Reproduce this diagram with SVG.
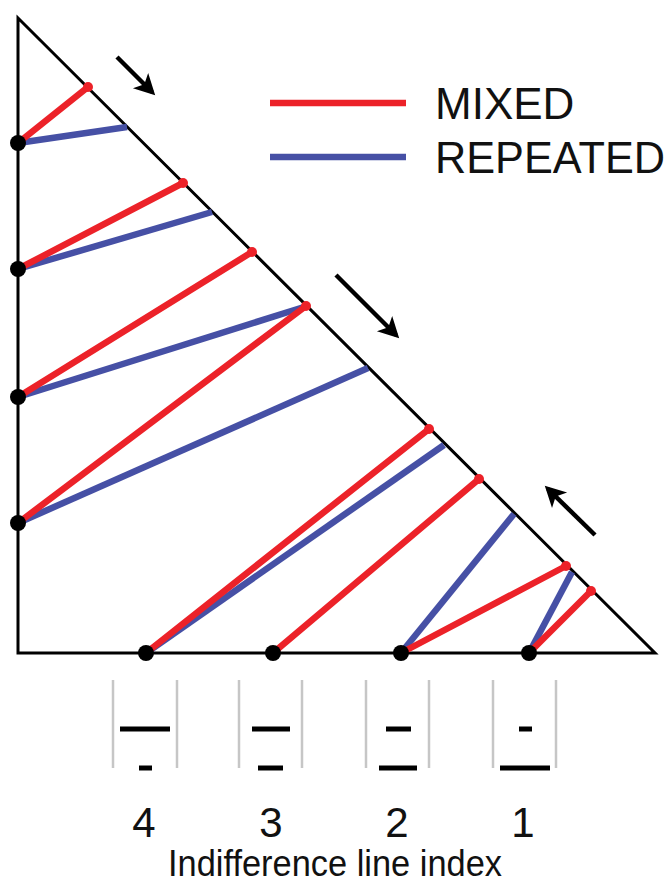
<svg xmlns="http://www.w3.org/2000/svg" width="670" height="888" viewBox="0 0 670 888">
<style>
.tri{fill:none;stroke:#000;stroke-width:3;stroke-linejoin:miter}
.mix{stroke:#ec2229;stroke-width:6.5;stroke-linecap:round}
.rep{stroke:#4650a5;stroke-width:6.5;stroke-linecap:butt}
.dot{fill:#000}
.rdot{fill:#ec2229}
.arr{stroke:#000;stroke-width:4.5;fill:none;marker-end:url(#ah)}
.grey{stroke:#c6c6c6;stroke-width:2.5}
.bar{stroke:#000;stroke-width:5}
.t{font-family:"Liberation Sans",Arial,sans-serif;fill:#111}
</style>
<defs>
<marker id="ah" markerWidth="6" markerHeight="6" refX="3.6" refY="3" orient="auto" markerUnits="strokeWidth">
<path d="M0,0.6 L4.6,3 L0,5.4 L1.2,3 Z" fill="#000"/>
</marker>
</defs>
<rect width="670" height="888" fill="#fff"/>
<g id="triangle">
<path class="tri" d="M18,18 L18,653 L655,653 Z"/>
</g>
<g id="connectors">
<line class="rep" x1="18" y1="143" x2="127" y2="127"/>
<line class="mix" x1="18" y1="143" x2="88" y2="87"/>
<line class="rep" x1="18" y1="269" x2="212" y2="212"/>
<line class="mix" x1="18" y1="269" x2="183" y2="183"/>
<line class="rep" x1="18" y1="397" x2="304" y2="307"/>
<line class="mix" x1="18" y1="397" x2="252" y2="252"/>
<line class="rep" x1="18" y1="523" x2="368" y2="368"/>
<line class="mix" x1="18" y1="523" x2="306" y2="306"/>
<line class="rep" x1="146" y1="653" x2="444" y2="445"/>
<line class="mix" x1="146" y1="653" x2="429" y2="429"/>
<line class="mix" x1="273" y1="653" x2="479" y2="479"/>
<line class="rep" x1="401" y1="653" x2="514" y2="514"/>
<line class="mix" x1="401" y1="653" x2="566" y2="566"/>
<line class="rep" x1="529" y1="653" x2="572" y2="572"/>
<line class="mix" x1="529" y1="653" x2="591" y2="591"/>
</g>
<g id="hyp-points">
<circle class="rdot" cx="88" cy="87" r="5"/>
<circle class="rdot" cx="183" cy="183" r="5"/>
<circle class="rdot" cx="252" cy="252" r="5"/>
<circle class="rdot" cx="306" cy="306" r="5"/>
<circle class="rdot" cx="429" cy="429" r="5"/>
<circle class="rdot" cx="479" cy="479" r="5"/>
<circle class="rdot" cx="566" cy="566" r="5"/>
<circle class="rdot" cx="591" cy="591" r="5"/>
</g>
<g id="left-nodes">
<circle class="dot" cx="18" cy="143" r="8"/>
<circle class="dot" cx="18" cy="269" r="8"/>
<circle class="dot" cx="18" cy="397" r="8"/>
<circle class="dot" cx="18" cy="523" r="8"/>
</g>
<g id="bottom-nodes">
<circle class="dot" cx="146" cy="653" r="8"/>
<circle class="dot" cx="273" cy="653" r="8"/>
<circle class="dot" cx="401" cy="653" r="8"/>
<circle class="dot" cx="529" cy="653" r="8"/>
</g>
<g id="arrows">
<line class="arr" x1="117" y1="57" x2="152" y2="92"/>
<line class="arr" x1="336" y1="275" x2="396" y2="335"/>
<line class="arr" x1="595" y1="535" x2="548" y2="489"/>
</g>
<g id="legend">
<line x1="270" y1="103" x2="406" y2="103" stroke="#ec2229" stroke-width="6.5"/>
<line x1="270" y1="157" x2="406" y2="157" stroke="#4650a5" stroke-width="6.5"/>
<text class="t" x="435" y="119" font-size="44">MIXED</text>
<text class="t" x="435" y="173" font-size="44" textLength="230" lengthAdjust="spacingAndGlyphs">REPEATED</text>
</g>
<g id="index-4">
<line class="grey" x1="113" y1="680" x2="113" y2="768"/>
<line class="grey" x1="177" y1="680" x2="177" y2="768"/>
<line class="bar" x1="120" y1="729" x2="170" y2="729"/>
<line class="bar" x1="139" y1="768" x2="152" y2="768"/>
<text class="t" x="144" y="837" font-size="42" text-anchor="middle">4</text>
</g>
<g id="index-3">
<line class="grey" x1="239" y1="680" x2="239" y2="768"/>
<line class="grey" x1="302" y1="680" x2="302" y2="768"/>
<line class="bar" x1="252" y1="729" x2="290" y2="729"/>
<line class="bar" x1="258" y1="768" x2="283" y2="768"/>
<text class="t" x="271" y="837" font-size="42" text-anchor="middle">3</text>
</g>
<g id="index-2">
<line class="grey" x1="366" y1="680" x2="366" y2="768"/>
<line class="grey" x1="429" y1="680" x2="429" y2="768"/>
<line class="bar" x1="386" y1="729" x2="411" y2="729"/>
<line class="bar" x1="379" y1="768" x2="417" y2="768"/>
<text class="t" x="397" y="837" font-size="42" text-anchor="middle">2</text>
</g>
<g id="index-1">
<line class="grey" x1="493" y1="680" x2="493" y2="768"/>
<line class="grey" x1="556" y1="680" x2="556" y2="768"/>
<line class="bar" x1="519" y1="729" x2="532" y2="729"/>
<line class="bar" x1="500" y1="768" x2="550" y2="768"/>
<text class="t" x="523" y="837" font-size="42" text-anchor="middle">1</text>
</g>
<g id="axis-label">
<text class="t" x="335" y="876" font-size="36" text-anchor="middle" textLength="334" lengthAdjust="spacingAndGlyphs">Indifference line index</text>
</g>
</svg>
